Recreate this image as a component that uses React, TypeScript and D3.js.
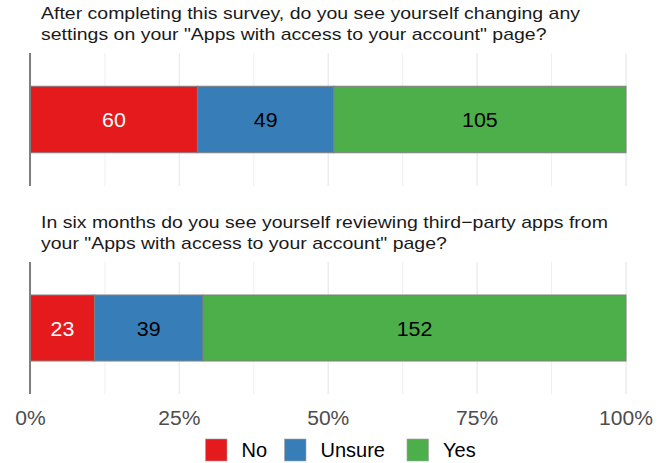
import React from "react";
import * as d3 from "d3";

const questions = [
  ["After completing this survey, do you see yourself changing any", "settings on your \"Apps with access to your account\" page?"],
  ["In six months do you see yourself reviewing third\u2212party apps from", "your \"Apps with access to your account\" page?"],
];
const responses = ["No", "Unsure", "Yes"];
const noCounts = [60, 23];
const unsureCounts = [49, 39];
const yesCounts = [105, 152];
const tickValues = [0, 0.25, 0.5, 0.75, 1];
const tickLabels = ["0%", "25%", "50%", "75%", "100%"];
const colors = ["#E41A1C", "#377EB8", "#4DAF4A"];
const labelColors = ["#ffffff", "#000000", "#000000"];

const W = 667;
const H = 463;
const FONT = "'Liberation Sans', Arial, Helvetica, sans-serif";

function T({ x, y, sx = 1, anchor = "start", size, fill, children }: any) {
  return (
    <g transform={`translate(${x},${y}) scale(${sx},1)`}>
      <text x={0} y={0} textAnchor={anchor} fontSize={size} fill={fill}>{children}</text>
    </g>
  );
}

export default function App() {
  const x = d3.scaleLinear().domain([0, 1]).range([30.5, 626]);
  const rows = questions.map((q, i) => ({
    No: noCounts[i],
    Unsure: unsureCounts[i],
    Yes: yesCounts[i],
  }));
  const stacked = d3.stack<any>().keys(responses).offset(d3.stackOffsetExpand)(rows);
  const panels = [
    { top: 53, bottom: 186, titleY: [18.5, 39.5] },
    { top: 262, bottom: 394, titleY: [227.5, 248.5] },
  ];
  const grid = d3.range(0, 1.0001, 0.125);
  return (
    <svg width={W} height={H} style={{ position: "absolute", left: 0, top: 0 }} fontFamily={FONT}>
      <rect width={W} height={H} fill="#fff" />
      {panels.map((p, pi) => {
        const y = d3.scaleBand().domain(["q"]).range([p.top, p.bottom]).paddingInner(0.5).paddingOuter(0.25);
        const bandTop = y("q")!;
        const bw = y.bandwidth();
        return (
          <g key={pi}>
            {questions[pi].map((line, li) => (
              <T key={li} x={41} y={p.titleY[li]} sx={1.12} size={17.4} fill="#1a1a1a">{line}</T>
            ))}
            {grid.map((g, gi) => (
              <line key={gi} x1={x(g)} x2={x(g)} y1={p.top} y2={p.bottom}
                stroke="#ebebeb" strokeWidth={gi % 2 === 0 ? 1.4 : 0.8} />
            ))}
            {stacked.map((s, si) => {
              const d = s[pi];
              const x0 = x(d[0]);
              const x1 = x(d[1]);
              return (
                <g key={si}>
                  <rect x={x0} y={bandTop} width={x1 - x0} height={bw}
                    fill={colors[si]} stroke="#7f7f7f" strokeWidth={1} />
                  <T x={(x0 + x1) / 2} y={bandTop + bw / 2 + 7.5} sx={1.07} anchor="middle"
                    size={20} fill={labelColors[si]}>{(d.data as any)[responses[si]]}</T>
                </g>
              );
            })}
            <line x1={30} x2={30} y1={p.top} y2={p.bottom} stroke="#7f7f7f" strokeWidth={2} />
          </g>
        );
      })}
      {tickValues.map((t, i) => (
        <T key={i} x={x(t)} y={425} sx={1.08} anchor="middle" size={19.5} fill="#4d4d4d">{tickLabels[i]}</T>
      ))}
      {responses.map((r, i) => {
        const keyX = [205.5, 284.5, 407][i];
        return (
          <g key={r}>
            <rect x={keyX} y={439} width={21.5} height={22} fill={colors[i]} stroke="#a0a0a0" strokeWidth={0.6} />
            <T x={keyX + 36} y={457} size={20} fill="#000">{r}</T>
          </g>
        );
      })}
    </svg>
  );
}
